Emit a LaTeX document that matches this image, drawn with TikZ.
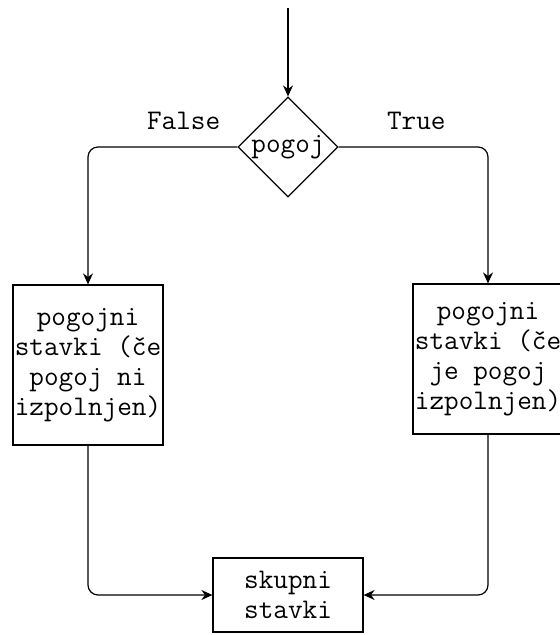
\documentclass[tikz,border=0pt]{standalone}
\usepackage{fontspec}
\usetikzlibrary{shapes.geometric,arrows.meta}
\begin{document}
\begin{tikzpicture}[x=0.5pt,y=-0.5pt,line width=0.6pt,
  box/.style={draw,minimum width=75pt,align=center,inner sep=0pt,
    font=\ttfamily\fontsize{14.2}{15}\selectfont},
  lbl/.style={anchor=base,yshift=8.5pt,inner sep=0pt,
    font=\ttfamily\fontsize{14.2}{15}\selectfont},
  link/.style={-{Stealth[length=5.5pt,width=5pt]},rounded corners=5pt}]
\useasboundingbox (0,0) rectangle (560,635);
\coordinate (start) at (288,8);
\node[box,diamond,minimum width=50pt,minimum height=50pt] (pogoj) at (288,147) {pogoj};
\node[box,minimum height=80pt] (falsebox) at (88,365)
  {pogojni\\stavki (če\\pogoj ni\\izpolnjen)};
\node[box,minimum height=75pt] (truebox) at (488,359)
  {pogojni\\stavki (če\\je pogoj\\izpolnjen)};
\node[box,minimum height=37pt] (joinbox) at (288,595) {skupni\\stavki};
\draw[link] (start) -- (pogoj.north);
\draw[link] (pogoj.west) -| node[lbl,pos=0.18]{False} (falsebox.north);
\draw[link] (pogoj.east) -| node[lbl,pos=0.26]{True} (truebox.north);
\draw[link] (falsebox.south) |- (joinbox.west);
\draw[link] (truebox.south) |- (joinbox.east);
\end{tikzpicture}
\end{document}
